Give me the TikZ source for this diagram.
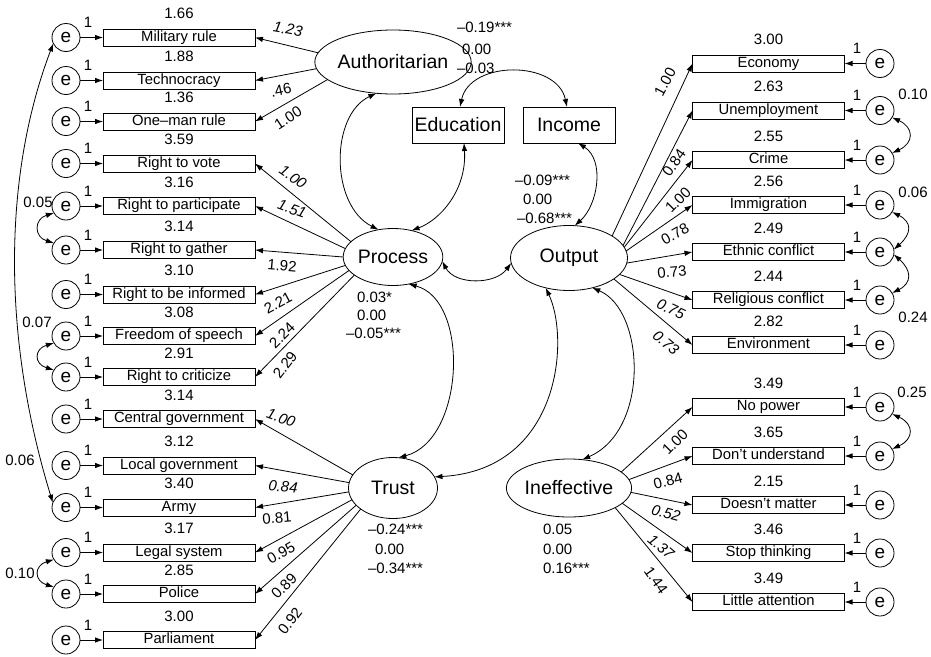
\documentclass[tikz,border=0pt]{standalone}
\usepackage{fontspec}
\setmainfont{Liberation Sans}
\usetikzlibrary{shapes.geometric,arrows.meta}
\begin{document}
\begin{tikzpicture}[x=1pt,y=-1pt,
  every node/.style={inner sep=0pt, outer sep=0pt},
  ind/.style={draw, line width=0.8pt, minimum width=152pt, minimum height=17pt, font=\fontsize{14.8}{16}\selectfont, text height=10.8pt, text depth=3.2pt},
  err/.style={draw, circle, line width=0.8pt, minimum size=28pt, font=\fontsize{19}{19}\selectfont},
  lat/.style={draw, ellipse, line width=0.8pt, font=\fontsize{19.5}{20}\selectfont},
  obs/.style={draw, line width=0.8pt, minimum width=92pt, minimum height=36pt, font=\fontsize{19.5}{20}\selectfont},
  num/.style={font=\fontsize{15}{15}\selectfont},
  inum/.style={font=\fontsize{15}{15}\selectfont\itshape},
  arr/.style={line width=0.8pt, -{Latex[length=8pt,width=5.5pt]}},
  cov/.style={line width=0.8pt, {Latex[length=8pt,width=5.5pt]}-{Latex[length=8pt,width=5.5pt]}},
]
\useasboundingbox (0,0) rectangle (931,656);

% ---------------- left indicators ----------------
\foreach \n/\y/\t/\m in {
  L1/37.5/Military rule/1.66,
  L2/80.5/Technocracy/1.88,
  L3/121.5/One\textendash man rule/1.36,
  L4/163.5/Right to vote/3.59,
  L5/206/Right to participate/3.16,
  L6/250/Right to gather/3.14,
  L7/294.5/Right to be informed/3.10,
  L8/336/Freedom of speech/3.08,
  L9/377/Right to criticize/2.91,
  L10/419/Central government/3.14,
  L11/465.5/Local government/3.12,
  L12/507.5/Army/3.40,
  L13/552.5/Legal system/3.17,
  L14/594/Police/2.85,
  L15/640/Parliament/3.00}{
  \node[ind] (\n) at (179,\y) {\t};
  \node[err] (e\n) at (66,\y) {e};
  \draw[arr] (e\n) -- (\n);
  \node[num] (m\n) at (179,\y-24) {\m};
  \node[num] (o\n) at (88,\y-15) {1};
}

% ---------------- right indicators ----------------
\foreach \n/\y/\t/\m in {
  R1/63.5/Economy/3.00,
  R2/110.5/Unemployment/2.63,
  R3/160/Crime/2.55,
  R4/205/Immigration/2.56,
  R5/252/Ethnic conflict/2.49,
  R6/300/Religious conflict/2.44,
  R7/345/Environment/2.82,
  R8/407/No power/3.49,
  R9/456/Don't understand/3.65,
  R10/505/Doesn't matter/2.15,
  R11/553/Stop thinking/3.46,
  R12/602/Little attention/3.49}{
  \node[ind] (\n) at (768.5,\y) {\t};
  \node[err] (e\n) at (880,\y) {e};
  \draw[arr] (e\n) -- (\n);
  \node[num] (m\n) at (768.5,\y-24) {\m};
  \node[num] (o\n) at (857,\y-15) {1};
}

% ---------------- latent variables ----------------
\node[lat, minimum width=115pt, minimum height=64pt] (auth) at (393,62) {Authoritarian};
\node[lat, minimum width=89pt, minimum height=57pt] (proc) at (393,257) {Process};
\node[lat, minimum width=117pt, minimum height=65pt] (out) at (569,258) {Output};
\node[lat, minimum width=89pt, minimum height=61pt] (trust) at (393,488) {Trust};
\node[lat, minimum width=107pt, minimum height=58pt] (ineff) at (569,488) {Ineffective};
\node[obs] (edu) at (458,125) {Education};
\node[obs] (inc) at (569,125) {Income};

% ---------------- loadings ----------------
\foreach \a/\t in {173/L1,185/L2,195/L3} \draw[arr] (auth.\a) -- (\t.east);
\foreach \a/\t in {160.7/L4,170.3/L5,180/L6,190.5/L7,197.6/L8,205.3/L9} \draw[arr] (proc.\a) -- (\t.east);
\foreach \a/\t in {162.4/L10,173.4/L11,185.3/L12,196.7/L13,205.3/L14,213.7/L15} \draw[arr] (trust.\a) -- (\t.east);
\foreach \a/\t in {27.6/R1,13.8/R2,11.3/R3,7/R4,-5.9/R5,-18.4/R6,-25.5/R7} \draw[arr] (out.\a) -- (\t.west);
\foreach \a/\t in {17.4/R8,8.6/R9,-4.3/R10,-16/R11,-23.4/R12} \draw[arr] (ineff.\a) -- (\t.west);

% loading labels
\node[inum, rotate=-10] (w1) at (288,29) {1.23};
\node[num, rotate=12] (w2) at (281,90) {.46};
\node[num, rotate=33] (w3) at (288,118) {1.00};
\node[inum, rotate=-35] (w4) at (293,177) {1.00};
\node[inum, rotate=-20] (w5) at (292,209) {1.51};
\node[num, rotate=-5] (w6) at (282,266) {1.92};
\node[num, rotate=28] (w7) at (278,303) {2.21};
\node[num, rotate=45] (w8) at (282,335) {2.24};
\node[num, rotate=52] (w9) at (285,365) {2.29};
\node[inum, rotate=-20] (w10) at (281,418) {1.00};
\node[inum, rotate=-5] (w11) at (283,487) {0.84};
\node[num, rotate=5] (w12) at (277,518) {0.81};
\node[num, rotate=30] (w13) at (281,553) {0.95};
\node[num, rotate=45] (w14) at (284,586) {0.89};
\node[num, rotate=52] (w15) at (290,621) {0.92};
\node[num, rotate=62] (v1) at (665,82) {1.00};
\node[num, rotate=55] (v3) at (674,163) {0.84};
\node[num, rotate=45] (v4) at (678,200) {1.00};
\node[num, rotate=30] (v5) at (675,234) {0.78};
\node[num, rotate=5] (v6) at (672,272) {0.73};
\node[inum, rotate=-25] (v7) at (671,309) {0.75};
\node[inum, rotate=-40] (v8) at (666,343) {0.73};
\node[num, rotate=45] (u1) at (675,442) {1.00};
\node[num, rotate=15] (u2) at (668,481) {0.84};
\node[inum, rotate=-15] (u3) at (666,513) {0.52};
\node[inum, rotate=-40] (u4) at (661,547) {1.37};
\node[num, rotate=-55] (u5) at (656,580) {1.44};

% ---------------- error covariances ----------------
\draw[cov] (eL5.210) .. controls +(-20,6) and +(-20,-6) .. (eL6.150);
\draw[cov] (eL8.210) .. controls +(-20,6) and +(-20,-6) .. (eL9.150);
\draw[cov] (eL13.210) .. controls +(-20,6) and +(-20,-6) .. (eL14.150);
\draw[cov] (eL1.205) .. controls (5,170) and (0,330) .. (eL12.160);
\draw[cov] (eR2.-30) .. controls +(22,10) and +(22,-10) .. (eR3.30);
\draw[cov] (eR4.-30) .. controls +(20,10) and +(18,-16) .. (eR5.10);
\draw[cov] (eR5.-10) .. controls +(18,16) and +(20,-10) .. (eR6.30);
\draw[cov] (eR8.-30) .. controls +(22,10) and +(22,-10) .. (eR9.30);
\node[num] (c1) at (38,202) {0.05};
\node[num] (c2) at (37,322) {0.07};
\node[num] (c3) at (20,460) {0.06};
\node[num] (c4) at (20,573) {0.10};
\node[num] (c5) at (913,94) {0.10};
\node[num] (c6) at (913,192) {0.06};
\node[num] (c7) at (913,317) {0.24};
\node[num] (c8) at (912,392) {0.25};

% ---------------- latent covariances ----------------
\draw[cov] ([xshift=2pt]edu.north) .. controls (470,60) and (557,60) .. ([xshift=-2pt]inc.north);
\draw[cov] (auth.-118) .. controls (330,115) and (330,205) .. (proc.118);
\draw[cov] ([xshift=6pt]edu.south) .. controls (467,190) and (440,220) .. (proc.55);
\draw[cov] ([xshift=9pt]inc.south) .. controls (605,160) and (598,205) .. (out.80);
\draw[cov] (proc.-5) .. controls (455,285) and (495,285) .. (out.185);
\draw[cov] (proc.-60) .. controls (470,300) and (465,440) .. (trust.80);
\draw[cov] (out.-128) .. controls (570,340) and (560,470) .. (trust.15);
\draw[cov] (out.-52) .. controls (645,310) and (650,430) .. (ineff.65);

% ---------------- latent labels ----------------
\node[num, anchor=west] (k1) at (457,27) {\textendash 0.19***};
\node[num, anchor=west] (k2) at (462,49) {0.00};
\node[num, anchor=west] (k3) at (457,68) {\textendash 0.03};
\node[num, anchor=west] (p1) at (357,297) {0.03*};
\node[num, anchor=west] (p2) at (357,315) {0.00};
\node[num, anchor=west] (p3) at (346,333) {\textendash 0.05***};
\node[num, anchor=west] (q1) at (515,180) {\textendash 0.09***};
\node[num, anchor=west] (q2) at (523,199) {0.00};
\node[num, anchor=west] (q3) at (517,218) {\textendash 0.68***};
\node[num, anchor=west] (t1) at (368,529) {\textendash 0.24***};
\node[num, anchor=west] (t2) at (375,549) {0.00};
\node[num, anchor=west] (t3) at (368,568) {\textendash 0.34***};
\node[num, anchor=west] (i1) at (543,529) {0.05};
\node[num, anchor=west] (i2) at (543,549) {0.00};
\node[num, anchor=west] (i3) at (543,568) {0.16***};
\end{tikzpicture}
\end{document}
